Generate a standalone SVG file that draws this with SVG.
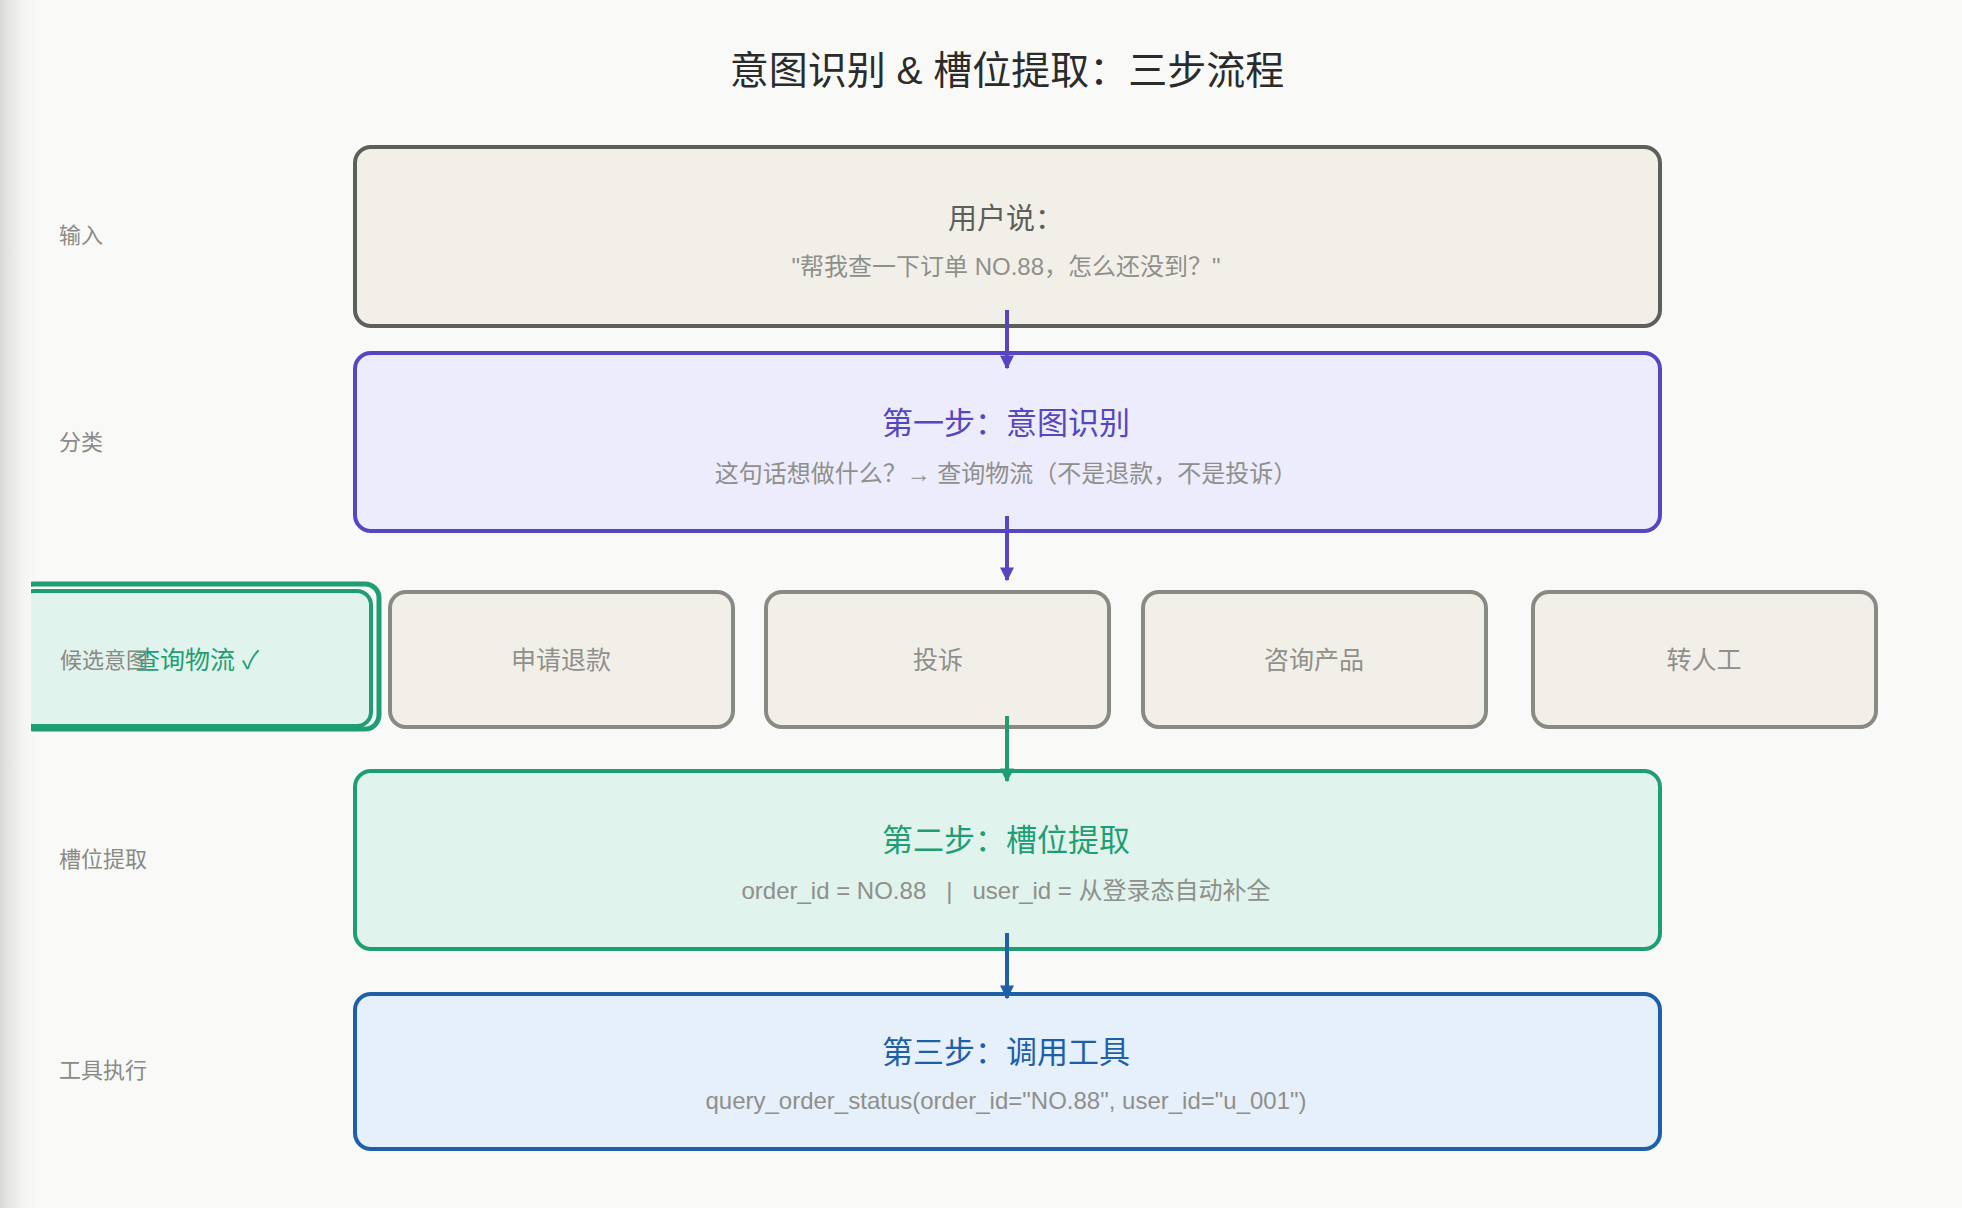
<svg xmlns="http://www.w3.org/2000/svg" width="1962" height="1208" viewBox="0 0 1962 1208">
<defs>
<linearGradient id="edge" x1="0" x2="1" y1="0" y2="0"><stop offset="0" stop-color="#d8d8d6"/><stop offset="1" stop-color="#f9f9f7" stop-opacity="0"/></linearGradient>
<clipPath id="cl"><rect x="31" y="0" width="1962" height="1208"/></clipPath>
<marker id="a1" viewBox="0 0 10 10" refX="9" refY="5" markerWidth="14" markerHeight="14" markerUnits="userSpaceOnUse" orient="auto"><path d="M0,0 L10,5 L0,10 z" fill="#5646c0"/></marker>
<marker id="a2" viewBox="0 0 10 10" refX="9" refY="5" markerWidth="14" markerHeight="14" markerUnits="userSpaceOnUse" orient="auto"><path d="M0,0 L10,5 L0,10 z" fill="#1f9e74"/></marker>
<marker id="a3" viewBox="0 0 10 10" refX="9" refY="5" markerWidth="14" markerHeight="14" markerUnits="userSpaceOnUse" orient="auto"><path d="M0,0 L10,5 L0,10 z" fill="#1f5fa8"/></marker>
</defs>
<style>
text{font-family:"Liberation Sans","Noto Sans CJK SC",sans-serif;text-anchor:middle}
.lab{font-size:22px;fill:#8a8a86;text-anchor:start}
.t{font-size:31px}
.s{font-size:24px;fill:#8f8f8b;white-space:pre}
.c{font-size:25px;fill:#8f8f8b}
.cand{fill:#f2efe9;stroke:#8a8a84;stroke-width:4}
</style>
<rect width="1962" height="1208" fill="#f9f9f7"/>
<rect width="40" height="1208" fill="url(#edge)"/>
<text x="1007" y="84" style="font-size:39px;fill:#2b2b2b">意图识别 &amp; 槽位提取：三步流程</text>
<text class="lab" x="59" y="243">输入</text>
<text class="lab" x="59" y="450">分类</text>
<text class="lab" x="59" y="867">槽位提取</text>
<text class="lab" x="59" y="1078">工具执行</text>
<g id="input"><rect x="355" y="147" width="1305" height="179" rx="16" fill="#f2efe9" stroke="#5e5e5a" stroke-width="4"/>
<text class="t" x="1006" y="229" style="font-size:29px;fill:#5e5e5a">用户说：</text>
<text class="s" x="1006" y="275">"帮我查一下订单 NO.88，怎么还没到？"</text></g>
<g id="step1"><rect x="355" y="353" width="1305" height="178" rx="16" fill="#edecfc" stroke="#5646c0" stroke-width="4"/>
<text class="t" x="1006" y="434" fill="#5646c0">第一步：意图识别</text>
<text class="s" x="1006" y="482">这句话想做什么？→ 查询物流（不是退款，不是投诉）</text></g>
<g id="cand-selected" clip-path="url(#cl)"><rect x="20" y="584" width="359" height="145" rx="14" fill="none" stroke="#1f9e74" stroke-width="5"/>
<rect x="20" y="591" width="351" height="135" rx="14" fill="#e0f3ec" stroke="#1f9e74" stroke-width="4"/>
<text x="197" y="669" style="font-size:25px;fill:#1f9e74">查询物流 ✓</text></g>
<text class="lab" x="60" y="668">候选意图</text>
<g id="cand-refund"><rect class="cand" x="390" y="592" width="343" height="135" rx="16"/><text class="c" x="561" y="669">申请退款</text></g>
<g id="cand-complain"><rect class="cand" x="766" y="592" width="343" height="135" rx="16"/><text class="c" x="938" y="669">投诉</text></g>
<g id="cand-product"><rect class="cand" x="1143" y="592" width="343" height="135" rx="16"/><text class="c" x="1314" y="669">咨询产品</text></g>
<g id="cand-human"><rect class="cand" x="1533" y="592" width="343" height="135" rx="16"/><text class="c" x="1704" y="669">转人工</text></g>
<g id="step2"><rect x="355" y="771" width="1305" height="178" rx="16" fill="#e0f3ec" stroke="#1f9e74" stroke-width="4"/>
<text class="t" x="1006" y="851" fill="#1f9e74">第二步：槽位提取</text>
<text class="s" x="1006" y="899">order_id = NO.88   |   user_id = 从登录态自动补全</text></g>
<g id="step3"><rect x="355" y="994" width="1305" height="155" rx="16" fill="#e6f0fb" stroke="#1f5fa8" stroke-width="4"/>
<text class="t" x="1006" y="1063" fill="#1f5fa8">第三步：调用工具</text>
<text class="s" x="1006" y="1109">query_order_status(order_id="NO.88", user_id="u_001")</text></g>
<g id="connectors" stroke-width="4" fill="none">
<line x1="1007" y1="310" x2="1007" y2="368" stroke="#5646c0" marker-end="url(#a1)"/>
<line x1="1007" y1="516" x2="1007" y2="580" stroke="#5646c0" marker-end="url(#a1)"/>
<line x1="1007" y1="716" x2="1007" y2="781" stroke="#1f9e74" marker-end="url(#a2)"/>
<line x1="1007" y1="933" x2="1007" y2="998" stroke="#1f5fa8" marker-end="url(#a3)"/>
</g>
</svg>
